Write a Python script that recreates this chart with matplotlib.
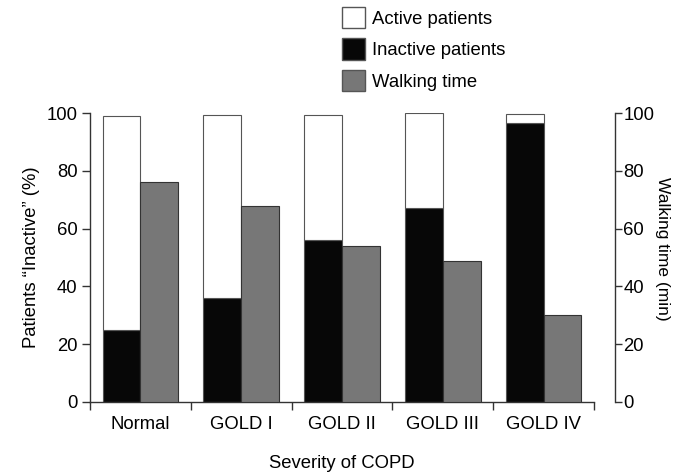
import matplotlib
matplotlib.use("Agg")
import matplotlib.pyplot as plt
import numpy as np
from matplotlib.patches import Patch
from matplotlib.ticker import FixedLocator, NullFormatter

categories = ["Normal", "GOLD I", "GOLD II", "GOLD III", "GOLD IV"]
inactive = [25, 36, 56, 67, 96.5]
total = [99, 99.2, 99.4, 100, 99.8]
walking = [76, 67.7, 54, 48.8, 30]
active = [t - i for t, i in zip(total, inactive)]

plt.rcParams['font.family'] = ['Liberation Sans', 'DejaVu Sans']
plt.rcParams['font.size'] = 13.3

dpi = 100
fig = plt.figure(figsize=(6.91, 4.75), dpi=dpi)
ax = fig.add_axes([90/691, 1-402/475, (594-90)/691, (402-113)/475])
ax2 = ax.twinx()

x = np.arange(len(categories)) + 0.5
w = 0.375
edge = '#555555'
ax.bar(x - w/2, inactive, w, color='#070707', edgecolor=edge, linewidth=0.8, zorder=2)
ax.bar(x - w/2, active, w, bottom=inactive, color='white', edgecolor=edge, linewidth=0.8, zorder=2)
ax2.bar(x + w/2, walking, w, color='#777777', edgecolor='#333333', linewidth=0.8, zorder=2)

ax.set_xlim(0, 5)
ax.set_ylim(0, 100)
ax2.set_ylim(0, 100)
ax.set_yticks([0, 20, 40, 60, 80, 100])
ax2.set_yticks([0, 20, 40, 60, 80, 100])

ax.xaxis.set_major_locator(FixedLocator([0, 1, 2, 3, 4, 5]))
ax.xaxis.set_major_formatter(NullFormatter())
ax.xaxis.set_minor_locator(FixedLocator(list(x)))
ax.set_xticklabels(categories, minor=True)
ax.tick_params(axis='x', which='major', length=6, width=1, color='#333333', direction='out')
ax.tick_params(axis='x', which='minor', length=0, pad=10)
ax.tick_params(axis='y', length=6, width=1, color='#333333', pad=3)
ax2.tick_params(axis='y', length=5, width=1, color='#333333', pad=1)

for a in (ax, ax2):
    a.spines['top'].set_visible(False)
ax.spines['right'].set_visible(False)
ax2.spines['left'].set_visible(False)
ax2.spines['bottom'].set_visible(False)
ax2.spines['right'].set_position(('outward', 21 * 72 / dpi))
for s in ('left', 'bottom'):
    ax.spines[s].set_color('#333333')
    ax.spines[s].set_linewidth(1)
ax2.spines['right'].set_color('#333333')
ax2.spines['right'].set_linewidth(1)

ax.set_ylabel("Patients \u201cInactive\u201d (%)", labelpad=5)
ax.set_xlabel("Severity of COPD", labelpad=16)
ax2.set_ylabel("Walking time (min)", rotation=270, labelpad=14, fontsize=12.5)
ax2.yaxis.set_label_coords(1.151, 0.53)

handles = [Patch(facecolor='white', edgecolor='#555555', label='Active patients'),
           Patch(facecolor='#070707', edgecolor='#555555', label='Inactive patients'),
           Patch(facecolor='#777777', edgecolor='#555555', label='Walking time')]
fig.legend(handles=handles, loc='upper left', bbox_to_anchor=(342/691, 1 - 7/475),
           frameon=False, handlelength=1.25, handleheight=1.4, labelspacing=0.55,
           handletextpad=0.38, borderpad=0, borderaxespad=0)

fig.savefig("out.png", dpi=dpi)
